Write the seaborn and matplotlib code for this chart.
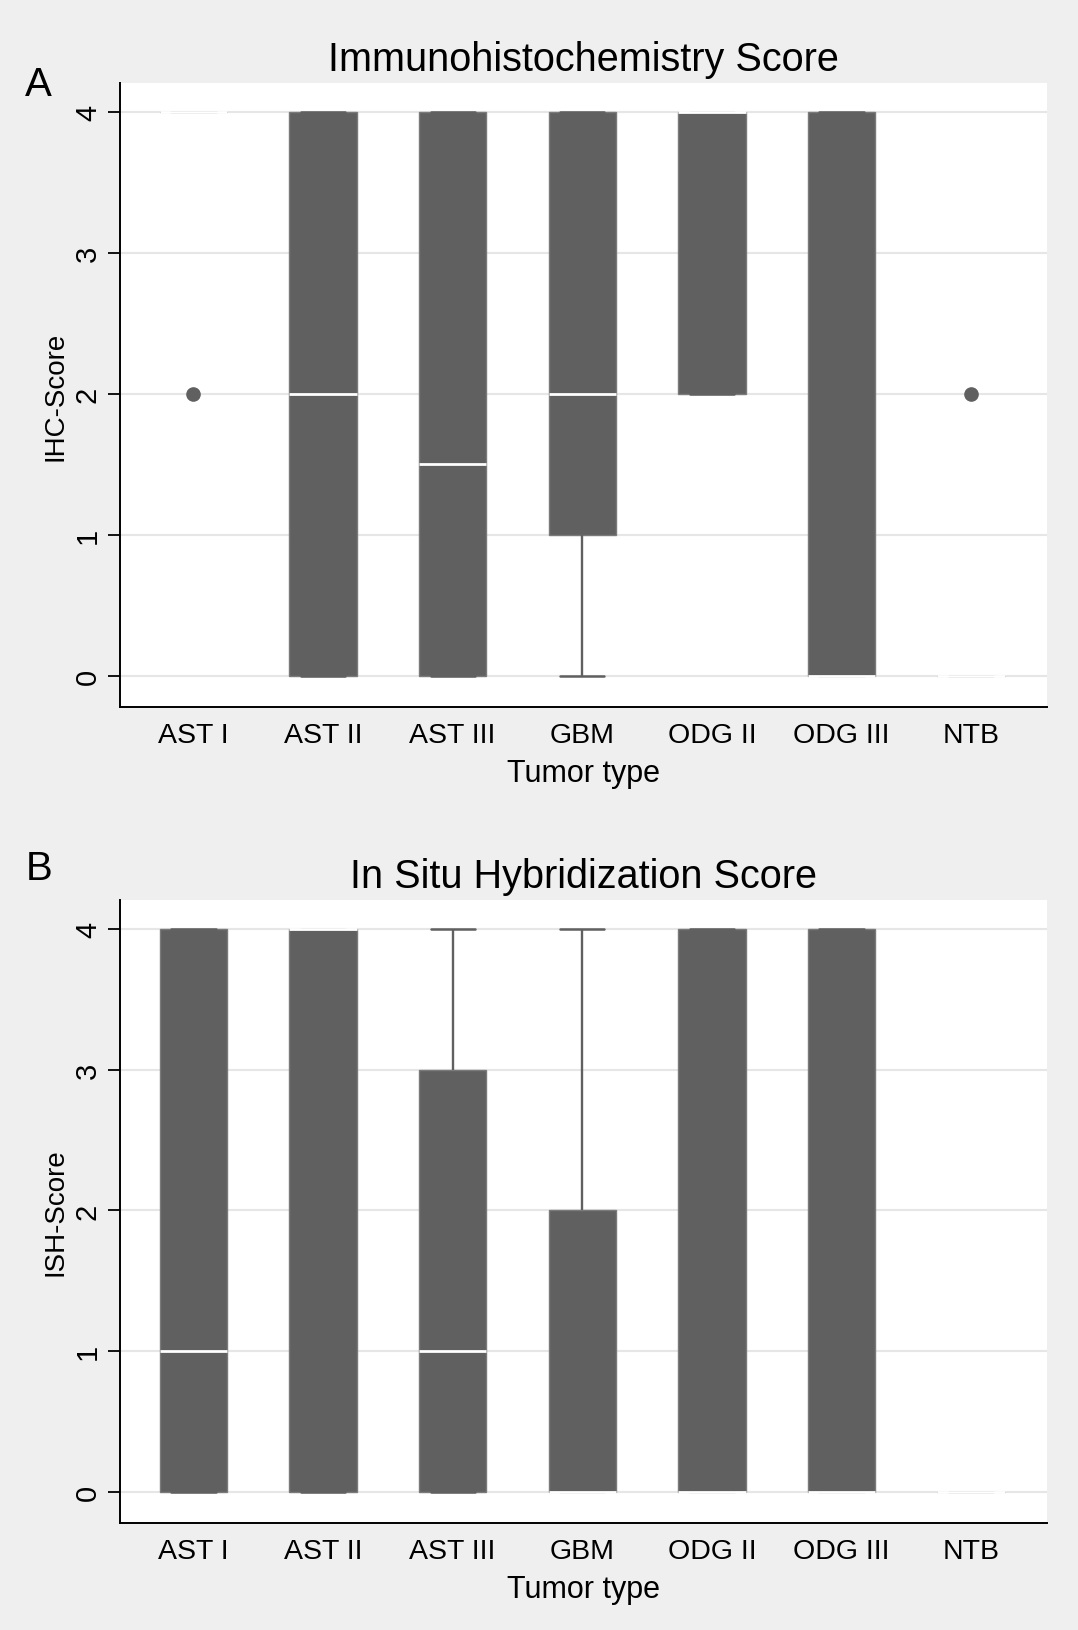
import numpy as np
import pandas as pd
import matplotlib
matplotlib.use("Agg")
import matplotlib.pyplot as plt
import seaborn as sns

# ------------------------------
# data (scores per tumor type)
# ------------------------------
tumor_types = ["AST I", "AST II", "AST III", "GBM", "ODG II", "ODG III", "NTB"]

ihc_scores = [
    [2, 4, 4, 4, 4, 4],
    [0, 0, 2, 4, 4],
    [0, 0, 0, 1, 2, 4, 4, 4],
    [0, 1, 1, 2, 2, 4, 4, 4, 4],
    [2, 2, 4, 4, 4],
    [0, 0, 0, 4, 4],
    [0, 0, 0, 0, 0, 2],
]

ish_scores = [
    [0, 0, 1, 4, 4],
    [0, 0, 4, 4, 4],
    [0, 0, 1, 3, 4],
    [0, 0, 0, 2, 4],
    [0, 0, 0, 4, 4],
    [0, 0, 0, 4, 4],
    [0, 0, 0],
]

y_ticks = [0, 1, 2, 3, 4]


def to_long(scores):
    rows = []
    for t, vals in zip(tumor_types, scores):
        for v in vals:
            rows.append({"tumor": t, "score": v})
    return pd.DataFrame(rows)


sns.set_theme(style="white")
plt.rcParams["font.family"] = ["Liberation Sans", "DejaVu Sans"]
plt.rcParams["text.color"] = "black"
plt.rcParams["axes.labelcolor"] = "black"
plt.rcParams["xtick.color"] = "black"
plt.rcParams["ytick.color"] = "black"

BOX = "#606060"
BG = "#efefef"
GRID = "#e6e6e6"

fig = plt.figure(figsize=(10.78, 16.31), dpi=100, facecolor=BG)
ax_a = fig.add_axes([0.1113, 0.5659, 0.860, 0.3826])
ax_b = fig.add_axes([0.1113, 0.0656, 0.860, 0.3820])

panels = [
    (ax_a, ihc_scores, "Immunohistochemistry Score", "IHC-Score"),
    (ax_b, ish_scores, "In Situ Hybridization Score", "ISH-Score"),
]

for ax, scores, title, ylab in panels:
    df = to_long(scores)
    ax.set_facecolor("white")
    for t in y_ticks:
        ax.axhline(t, color=GRID, lw=1.5, zorder=0)
    sns.boxplot(
        data=df, x="tumor", y="score", order=tumor_types, ax=ax,
        color=BOX, saturation=1, width=0.52, whis=1.5,
        linecolor=BOX, linewidth=1.2,
        boxprops=dict(edgecolor="#7a7a7a", linewidth=1.0),
        medianprops=dict(color="white", linewidth=2.0),
        whiskerprops=dict(color=BOX, linewidth=1.7),
        capprops=dict(color=BOX, linewidth=1.8),
        flierprops=dict(marker="o", markerfacecolor=BOX, markeredgecolor=BOX,
                        markersize=9.5),
    )
    # widen the caps a bit (stata style)
    for ln in ax.lines:
        xd = np.asarray(ln.get_xdata(), dtype=float)
        yd = np.asarray(ln.get_ydata(), dtype=float)
        if len(xd) == 2 and yd[0] == yd[1] and ln.get_color() == BOX:
            c = xd.mean()
            if abs((xd[1] - xd[0]) - 0.26) < 0.01:
                ln.set_xdata([c - 0.17, c + 0.17])

    ax.set_xlim(-0.567, 6.586)
    ax.set_ylim(-0.22, 4.205)
    ax.set_yticks(y_ticks)
    ax.set_yticklabels([str(t) for t in y_ticks], rotation=90, va="center",
                       fontsize=21)
    ax.tick_params(axis="y", left=True, length=9, width=1.3, pad=4)
    ax.tick_params(axis="x", bottom=False, labelsize=20.5, pad=5)
    ax.set_xlabel("Tumor type", fontsize=22, labelpad=7)
    ax.set_ylabel(ylab, fontsize=20, labelpad=4)
    ax.set_title(title, fontsize=28.5, pad=9)
    for s in ["top", "right"]:
        ax.spines[s].set_visible(False)
    for s in ["left", "bottom"]:
        ax.spines[s].set_color("black")
        ax.spines[s].set_linewidth(1.4)
    ax.grid(False)

fig.text(0.036, 0.948, "A", fontsize=29, va="center", ha="center")
fig.text(0.036, 0.467, "B", fontsize=29, va="center", ha="center")

fig.savefig("out.png", dpi=100, facecolor=BG)
